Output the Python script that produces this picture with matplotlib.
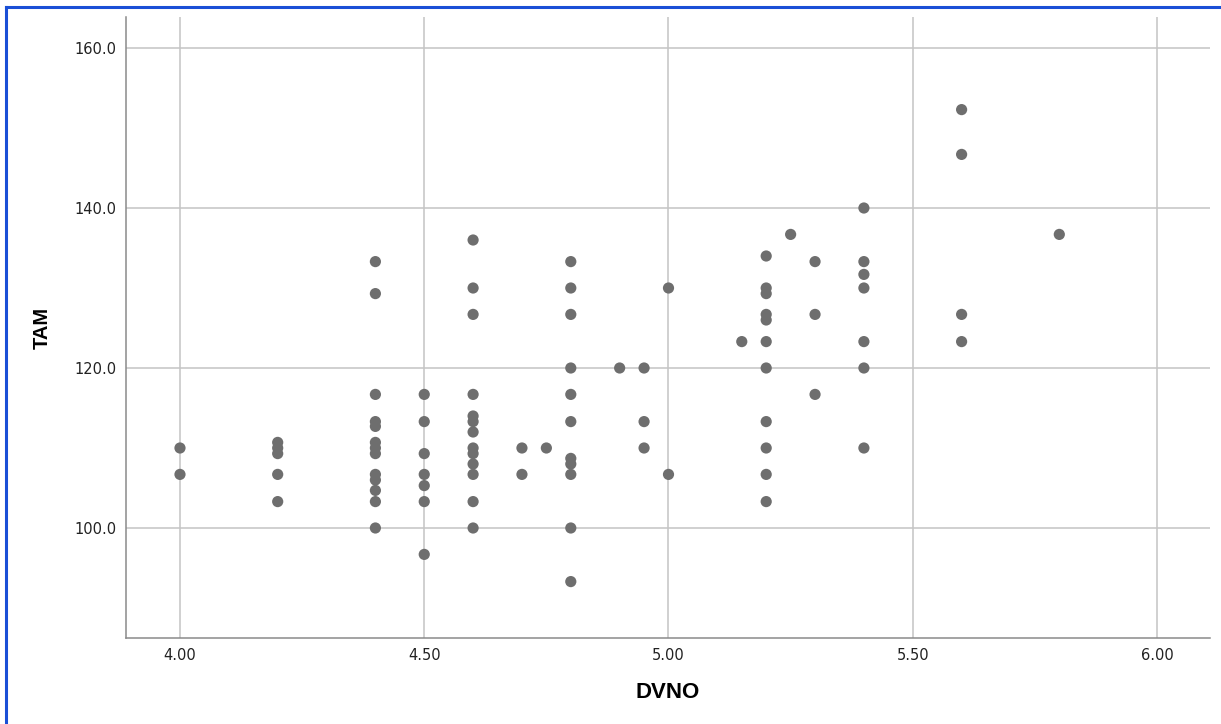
import matplotlib
matplotlib.use("Agg")
import matplotlib.pyplot as plt
from matplotlib.lines import Line2D

# DVNO (x) and TAM (y) pairs
dvno = [4.0, 4.0,
        4.2, 4.2, 4.2, 4.2, 4.2,
        4.4, 4.4, 4.4, 4.4, 4.4, 4.4, 4.4, 4.4, 4.4, 4.4, 4.4, 4.4, 4.4,
        4.5, 4.5, 4.5, 4.5, 4.5, 4.5, 4.5,
        4.6, 4.6, 4.6, 4.6, 4.6, 4.6, 4.6, 4.6, 4.6, 4.6, 4.6, 4.6, 4.6,
        4.7, 4.7,
        4.75,
        4.8, 4.8, 4.8, 4.8, 4.8, 4.8, 4.8, 4.8, 4.8, 4.8, 4.8,
        4.9,
        4.95, 4.95, 4.95,
        5.0, 5.0,
        5.15,
        5.2, 5.2, 5.2, 5.2, 5.2, 5.2, 5.2, 5.2, 5.2, 5.2, 5.2,
        5.25,
        5.3, 5.3, 5.3,
        5.4, 5.4, 5.4, 5.4, 5.4, 5.4, 5.4,
        5.6, 5.6, 5.6, 5.6,
        5.8]
tam = [110.0, 106.7,
       110.7, 110.0, 109.3, 106.7, 103.3,
       133.3, 129.3, 116.7, 113.3, 112.7, 110.7, 110.0, 109.3, 106.7, 106.0, 104.7, 103.3, 100.0,
       116.7, 113.3, 109.3, 106.7, 105.3, 103.3, 96.7,
       136.0, 130.0, 126.7, 116.7, 114.0, 113.3, 112.0, 110.0, 109.3, 108.0, 106.7, 103.3, 100.0,
       110.0, 106.7,
       110.0,
       133.3, 130.0, 126.7, 120.0, 116.7, 113.3, 108.7, 108.0, 106.7, 100.0, 93.3,
       120.0,
       120.0, 113.3, 110.0,
       130.0, 106.7,
       123.3,
       134.0, 130.0, 129.3, 126.7, 126.0, 123.3, 120.0, 113.3, 110.0, 106.7, 103.3,
       136.7,
       133.3, 126.7, 116.7,
       140.0, 133.3, 131.7, 130.0, 123.3, 120.0, 110.0,
       152.3, 146.7, 126.7, 123.3,
       136.7]

x_ticks = [4.0, 4.5, 5.0, 5.5, 6.0]
y_ticks = [100.0, 120.0, 140.0, 160.0]


def main():
    fig = plt.figure(figsize=(12.21, 7.24), dpi=100, facecolor="white")
    ax = fig.add_axes([0.1032, 0.1188, 0.8878, 0.8577])

    ax.scatter(dvno, tam, s=65, color="#6e6e6e", edgecolors="none", zorder=3)

    ax.set_xlim(3.8895, 6.1085)
    ax.set_ylim(86.25, 163.875)
    ax.set_xticks(x_ticks)
    ax.set_yticks(y_ticks)
    ax.set_xticklabels([f"{v:.2f}" for v in x_ticks], family="DejaVu Sans")
    ax.set_yticklabels([f"{v:.1f}" for v in y_ticks], family="DejaVu Sans")
    ax.tick_params(length=0, labelsize=10.5, colors="#222222", pad=7)

    ax.grid(True, color="#c4c4c4", linewidth=1.1, zorder=0)
    ax.set_axisbelow(True)

    for side in ["top", "right"]:
        ax.spines[side].set_visible(False)
    for side in ["left", "bottom"]:
        ax.spines[side].set_color("#8a8a8a")
        ax.spines[side].set_linewidth(1.1)

    ax.set_xlabel("DVNO", fontsize=16, fontweight="bold", family="Liberation Sans", labelpad=14)
    ax.set_ylabel("TAM", fontsize=14.5, fontweight="bold", family="Liberation Sans", labelpad=16)

    # blue frame of the screenshot (left and top edges)
    fig.add_artist(Line2D([0.0049, 0.0049], [0.0, 0.991], transform=fig.transFigure,
                          color="#1a4fd6", linewidth=2.2))
    fig.add_artist(Line2D([0.0049, 1.0], [0.991, 0.991], transform=fig.transFigure,
                          color="#1a4fd6", linewidth=2.2))

    fig.savefig("out.png", dpi=100, facecolor="white")


if __name__ == "__main__":
    main()
